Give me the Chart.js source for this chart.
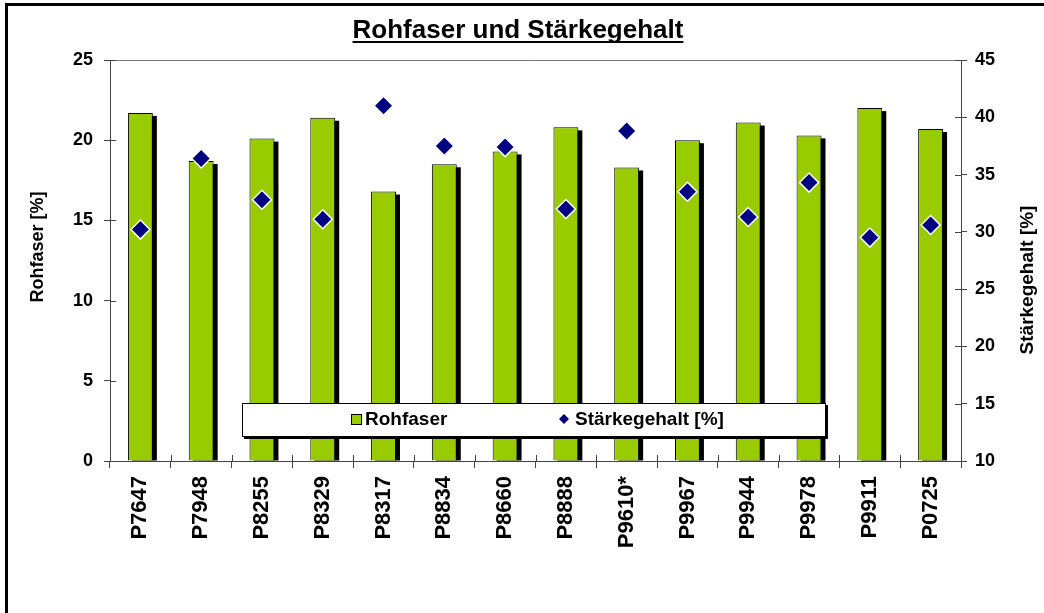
<!DOCTYPE html>
<html>
<head>
<meta charset="utf-8">
<script src="https://cdn.jsdelivr.net/npm/chart.js@4.4.1/dist/chart.umd.min.js"></script>
<style>
  html, body { margin: 0; padding: 0; background: #fff; }
  canvas { display: block; }
</style>
</head>
<body>
<canvas id="chart" width="1044" height="613"></canvas>
<script>
const categories = ['P7647', 'P7948', 'P8255', 'P8329', 'P8317', 'P8834', 'P8660', 'P8888', 'P9610*', 'P9967', 'P9944', 'P9978', 'P9911', 'P0725'];
const rohfaser = [21.7, 18.7, 20.1, 21.4, 16.8, 18.5, 19.3, 20.8, 18.3, 20.0, 21.1, 20.3, 22.0, 20.7];
const staerke = [30.2, 36.4, 32.8, 31.1, 41.0, 37.5, 37.4, 32.0, 38.8, 33.5, 31.3, 34.3, 29.5, 30.6];
const leftTicks = [0, 25, 5];
const rightTicks = [10, 45, 5];

const FONT = '"Liberation Sans", Arial, sans-serif';
const GREEN = '#99cc00';
const NAVY = '#000080';
const AXIS = '#444';

const diamond = (ctx, x, y, r) => {
  ctx.beginPath();
  ctx.moveTo(x, y - r);
  ctx.lineTo(x + r, y);
  ctx.lineTo(x, y + r);
  ctx.lineTo(x - r, y);
  ctx.closePath();
};

const extras = {
  id: 'extras',
  beforeDatasetDraw: function(chart, args) {
    if (args.meta.type !== 'bar') return;
    const ctx = chart.ctx;
    ctx.save();
    ctx.fillStyle = '#000';
    args.meta.data.forEach((bar) => {
      const p = bar.getProps(['x', 'y', 'base', 'width'], true);
      // drop shadow, offset right and down, stopping at the axis
      ctx.fillRect(p.x - p.width / 2 + 4, p.y + 3, p.width, p.base - p.y - 3);
    });
    ctx.restore();
  },
  afterDraw: function(chart) {
    const ctx = chart.ctx;
    const area = chart.chartArea;
    const x = chart.scales.x;
    const y = chart.scales.y;
    const y1 = chart.scales.y1;
    const sets = chart.data.datasets;
    const barSet = sets.find((d) => d.type !== 'line');
    const pointSet = sets.find((d) => d.type === 'line');

    ctx.save();

    // plot area top edge
    ctx.strokeStyle = '#777';
    ctx.lineWidth = 1;
    ctx.beginPath();
    ctx.moveTo(area.left, Math.round(area.top) + 0.5);
    ctx.lineTo(area.right, Math.round(area.top) + 0.5);
    ctx.stroke();

    // inner halves of tick marks
    ctx.strokeStyle = AXIS;
    ctx.beginPath();
    y.ticks.forEach((t) => {
      const py = Math.round(y.getPixelForValue(t.value)) + 0.5;
      ctx.moveTo(area.left, py);
      ctx.lineTo(area.left + 6, py);
    });
    y1.ticks.forEach((t) => {
      const py = Math.round(y1.getPixelForValue(t.value)) + 0.5;
      ctx.moveTo(area.right - 6, py);
      ctx.lineTo(area.right, py);
    });
    for (let i = 0; i <= categories.length; i++) {
      const px = Math.round(x.getPixelForValue(i - 0.5)) + 0.5;
      ctx.moveTo(px, area.bottom - 6);
      ctx.lineTo(px, area.bottom);
    }
    ctx.stroke();

    // title
    ctx.fillStyle = '#000';
    ctx.font = 'bold 26px ' + FONT;
    ctx.textAlign = 'center';
    ctx.textBaseline = 'alphabetic';
    const title = 'Rohfaser und Stärkegehalt';
    const tw = ctx.measureText(title).width;
    ctx.fillText(title, 518, 38);
    ctx.fillRect(518 - tw / 2, 41, tw, 2);

    // axis titles
    ctx.font = 'bold 18px ' + FONT;
    ctx.textBaseline = 'middle';
    ctx.save();
    ctx.translate(38, 247);
    ctx.rotate(-Math.PI / 2);
    ctx.fillText('Rohfaser [%]', 0, 0);
    ctx.restore();
    ctx.font = 'bold 19px ' + FONT;
    ctx.save();
    ctx.translate(1028, 280);
    ctx.rotate(-Math.PI / 2);
    ctx.fillText('Stärkegehalt [%]', 0, 0);
    ctx.restore();

    // legend box
    const lx = 242, ly = 403, lw = 584, lh = 34;
    ctx.fillStyle = '#000';
    ctx.fillRect(lx + 2, ly + 2, lw, lh);
    ctx.fillStyle = '#fff';
    ctx.fillRect(lx, ly, lw, lh);
    ctx.strokeStyle = '#000';
    ctx.strokeRect(lx + 0.5, ly + 0.5, lw - 1, lh - 1);

    ctx.fillStyle = GREEN;
    ctx.fillRect(352, 415, 9, 9);
    ctx.strokeRect(351.5, 414.5, 10, 10);
    ctx.fillStyle = NAVY;
    diamond(ctx, 564, 419, 5);
    ctx.fill();

    ctx.fillStyle = '#000';
    ctx.font = 'bold 19px ' + FONT;
    ctx.textAlign = 'left';
    ctx.textBaseline = 'middle';
    ctx.fillText(barSet.label, 365, 420);
    ctx.fillText(pointSet.label, 575, 420);

    // outer frame (only top and left visible)
    ctx.fillStyle = '#000';
    ctx.fillRect(5, 3, 3, 613);
    ctx.fillRect(5, 3, 1044, 3);

    ctx.restore();
  }
};

const tickFont = { family: FONT, size: 18, weight: 'bold' };

new Chart(document.getElementById('chart'), {
  type: 'bar',
  data: {
    labels: categories,
    datasets: [{
      type: 'line',
      label: 'Stärkegehalt [%]',
      data: staerke,
      yAxisID: 'y1',
      showLine: false,
      pointStyle: 'rectRot',
      pointRadius: 9.5,
      pointBackgroundColor: NAVY,
      pointBorderColor: '#fff',
      pointBorderWidth: 1.5,
      order: 0
    }, {
      type: 'bar',
      label: 'Rohfaser',
      data: rohfaser,
      yAxisID: 'y',
      backgroundColor: GREEN,
      borderColor: '#000',
      borderWidth: 1,
      barPercentage: 0.41,
      categoryPercentage: 1,
      order: 1
    }]
  },
  options: {
    responsive: false,
    animation: false,
    devicePixelRatio: 1,
    layout: { padding: { top: 60, left: 0, right: 0, bottom: 0 } },
    plugins: {
      legend: { display: false },
      title: { display: false },
      tooltip: { enabled: false }
    },
    scales: {
      x: {
        grid: { display: true, offset: true, drawOnChartArea: false, tickLength: 7, color: AXIS },
        border: { color: AXIS },
        ticks: { color: '#000', font: { family: FONT, size: 22, weight: 'bold' }, minRotation: 90, maxRotation: 90, autoSkip: false, padding: 8 },
        afterFit: (scale) => { scale.height = 152; }
      },
      y: {
        position: 'left',
        min: leftTicks[0],
        max: leftTicks[1],
        ticks: { stepSize: leftTicks[2], color: '#000', font: tickFont, padding: 11 },
        grid: { drawOnChartArea: false, tickLength: 6, color: AXIS },
        border: { color: AXIS },
        afterFit: (scale) => { scale.width = 110; }
      },
      y1: {
        position: 'right',
        min: rightTicks[0],
        max: rightTicks[1],
        ticks: { stepSize: rightTicks[2], color: '#000', font: tickFont, padding: 8 },
        grid: { drawOnChartArea: false, tickLength: 6, color: AXIS },
        border: { color: AXIS },
        afterFit: (scale) => { scale.width = 83; }
      }
    }
  },
  plugins: [extras]
});
</script>
</body>
</html>
